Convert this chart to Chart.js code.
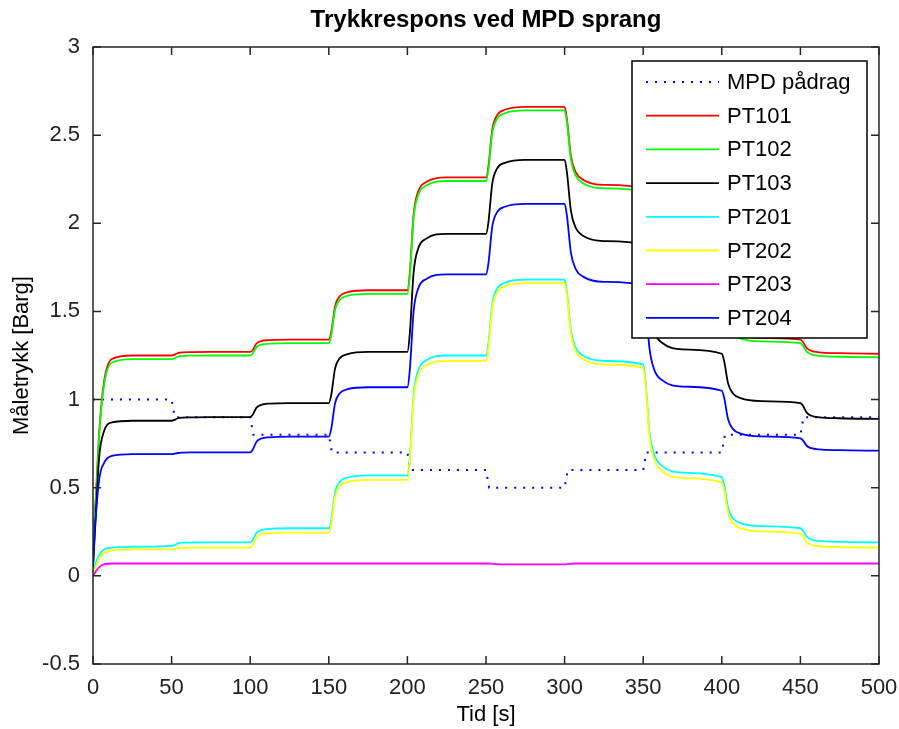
<!DOCTYPE html>
<html lang="no">
<head>
    <meta charset="UTF-8">
    <title>Trykkrespons ved MPD sprang</title>
    <script src="https://cdn.jsdelivr.net/npm/chart.js"></script>
    <style>
        body { margin: 0; background: #fff; }
        canvas { display: block; }
    </style>
</head>
<body>
    <canvas id="chart" width="899" height="729"></canvas>
<script>
    // Tidspunkter for trykkmålingene [s]
    const timeS = [
        0, 1.5, 4, 7, 12, 25,
        50, 51.5, 54, 57, 62, 75,
        100, 101.5, 104, 107, 112, 125,
        150, 151.5, 154, 157, 162, 175,
        200, 201.5, 204, 207, 212, 225,
        250, 251.5, 254, 257, 262, 275,
        300, 301.5, 304, 307, 312, 325,
        350, 351.5, 354, 357, 362, 375,
        400, 401.5, 404, 407, 412, 425,
        450, 451.5, 454, 457, 462, 475,
        500
    ];

    // MPD pådrag (sprang hvert 50. sekund)
    const mpdTime = [0, 50, 52, 100, 102, 150, 152, 200, 202, 250, 252, 300, 302, 350, 352, 400, 402, 450, 452, 500];
    const mpdValue = [1, 1, 0.9, 0.9, 0.8, 0.8, 0.7, 0.7, 0.6, 0.6, 0.5, 0.5, 0.6, 0.6, 0.7, 0.7, 0.8, 0.8, 0.9, 0.9];

    const pt101 = [
        0.2, 0.4, 0.82, 1.1, 1.23, 1.25,
        1.25, 1.253, 1.264, 1.268, 1.269, 1.27,
        1.27, 1.28, 1.318, 1.332, 1.337, 1.34,
        1.34, 1.382, 1.53, 1.586, 1.609, 1.62,
        1.62, 1.716, 2.055, 2.183, 2.234, 2.26,
        2.26, 2.32, 2.532, 2.612, 2.644, 2.66,
        2.66, 2.591, 2.384, 2.292, 2.246, 2.218,
        2.2, 2.11, 1.84, 1.72, 1.66, 1.624,
        1.6, 1.561, 1.444, 1.392, 1.366, 1.35,
        1.34, 1.328, 1.292, 1.276, 1.268, 1.263,
        1.26
    ];
    const pt102 = [
        0.2, 0.38, 0.8, 1.08, 1.21, 1.23,
        1.23, 1.233, 1.244, 1.248, 1.249, 1.25,
        1.25, 1.26, 1.298, 1.312, 1.317, 1.32,
        1.32, 1.362, 1.51, 1.566, 1.589, 1.6,
        1.6, 1.696, 2.035, 2.163, 2.214, 2.24,
        2.24, 2.3, 2.512, 2.592, 2.624, 2.64,
        2.64, 2.571, 2.364, 2.272, 2.226, 2.198,
        2.18, 2.09, 1.82, 1.7, 1.64, 1.604,
        1.58, 1.541, 1.424, 1.372, 1.346, 1.33,
        1.32, 1.308, 1.272, 1.256, 1.248, 1.243,
        1.24
    ];
    const pt103 = [
        0.05, 0.3, 0.68, 0.82, 0.87, 0.88,
        0.88, 0.883, 0.894, 0.898, 0.899, 0.9,
        0.9, 0.912, 0.954, 0.97, 0.977, 0.98,
        0.98, 1.024, 1.177, 1.235, 1.258, 1.27,
        1.27, 1.371, 1.726, 1.86, 1.913, 1.94,
        1.94, 2.003, 2.226, 2.31, 2.343, 2.36,
        2.36, 2.288, 2.072, 1.976, 1.928, 1.899,
        1.88, 1.787, 1.508, 1.384, 1.322, 1.285,
        1.26, 1.218, 1.092, 1.036, 1.008, 0.991,
        0.98, 0.967, 0.926, 0.908, 0.899, 0.894,
        0.89
    ];
    const pt201 = [
        0.02, 0.07, 0.12, 0.15, 0.16, 0.165,
        0.17, 0.173, 0.184, 0.188, 0.189, 0.19,
        0.19, 0.202, 0.244, 0.26, 0.267, 0.27,
        0.27, 0.315, 0.474, 0.534, 0.558, 0.57,
        0.57, 0.672, 1.032, 1.168, 1.223, 1.25,
        1.25, 1.315, 1.542, 1.628, 1.663, 1.68,
        1.68, 1.608, 1.392, 1.296, 1.248, 1.219,
        1.2, 1.104, 0.816, 0.688, 0.624, 0.586,
        0.56, 0.517, 0.386, 0.328, 0.299, 0.282,
        0.27, 0.258, 0.222, 0.206, 0.198, 0.193,
        0.19
    ];
    const pt202 = [
        0, 0.04, 0.1, 0.13, 0.145, 0.15,
        0.15, 0.152, 0.157, 0.159, 0.16, 0.16,
        0.16, 0.173, 0.218, 0.235, 0.242, 0.245,
        0.245, 0.29, 0.449, 0.509, 0.533, 0.545,
        0.545, 0.646, 1.004, 1.139, 1.193, 1.22,
        1.22, 1.286, 1.519, 1.607, 1.642, 1.66,
        1.66, 1.588, 1.372, 1.276, 1.228, 1.199,
        1.18, 1.083, 0.79, 0.66, 0.595, 0.556,
        0.53, 0.487, 0.356, 0.298, 0.269, 0.252,
        0.24, 0.228, 0.192, 0.176, 0.168, 0.163,
        0.16
    ];
    const pt203 = [
        0, 0.02, 0.05, 0.065, 0.07, 0.07,
        0.07, 0.07, 0.07, 0.07, 0.07, 0.07,
        0.07, 0.07, 0.07, 0.07, 0.07, 0.07,
        0.07, 0.07, 0.07, 0.07, 0.07, 0.07,
        0.07, 0.07, 0.07, 0.07, 0.07, 0.07,
        0.07, 0.07, 0.068, 0.066, 0.065, 0.065,
        0.065, 0.066, 0.068, 0.07, 0.07, 0.07,
        0.07, 0.07, 0.07, 0.07, 0.07, 0.07,
        0.07, 0.07, 0.07, 0.07, 0.07, 0.07,
        0.07, 0.07, 0.07, 0.07, 0.07, 0.07,
        0.07
    ];
    const pt204 = [
        0.05, 0.3, 0.55, 0.64, 0.68, 0.69,
        0.69, 0.692, 0.697, 0.699, 0.7, 0.7,
        0.7, 0.714, 0.761, 0.779, 0.786, 0.79,
        0.79, 0.832, 0.98, 1.036, 1.059, 1.07,
        1.07, 1.166, 1.505, 1.633, 1.684, 1.71,
        1.71, 1.77, 1.982, 2.062, 2.094, 2.11,
        2.11, 2.041, 1.834, 1.742, 1.696, 1.668,
        1.65, 1.56, 1.29, 1.17, 1.11, 1.074,
        1.05, 1.01, 0.888, 0.834, 0.807, 0.791,
        0.78, 0.77, 0.738, 0.724, 0.717, 0.713,
        0.71
    ];

    const sensorNames = ['PT101', 'PT102', 'PT103', 'PT201', 'PT202', 'PT203', 'PT204'];
    const sensorValues = [pt101, pt102, pt103, pt201, pt202, pt203, pt204];
    const sensorColors = ['#ff0000', '#00ff00', '#000000', '#00ffff', '#ffff00', '#ff00ff', '#0000ff'];

    const FONT = "'Liberation Sans', Arial, sans-serif";

    function toPoints(xs, ys) {
        return xs.map((x, i) => ({ x: x, y: ys[i] }));
    }

    const datasets = [{
        label: 'MPD pådrag',
        data: toPoints(mpdTime, mpdValue),
        borderColor: '#0000ff',
        borderWidth: 2,
        borderDash: [2, 7],
        order: 7
    }];
    sensorNames.forEach((name, i) => {
        datasets.push({
            label: name,
            data: toPoints(timeS, sensorValues[i]),
            borderColor: sensorColors[i],
            borderWidth: 1.8,
            cubicInterpolationMode: 'monotone',
            order: 6 - i   // sist plottet ligger øverst, som i MATLAB
        });
    });

    // Ramme og tick-merker innover på alle fire sider
    const boxTicks = {
        id: 'boxTicks',
        afterDatasetsDraw(chart) {
            const { ctx, chartArea: a, scales: { x, y } } = chart;
            const len = 8;
            ctx.save();
            ctx.strokeStyle = '#262626';
            ctx.lineWidth = 1.5;
            ctx.beginPath();
            x.ticks.forEach(t => {
                const px = x.getPixelForValue(t.value);
                ctx.moveTo(px, a.bottom); ctx.lineTo(px, a.bottom - len);
                ctx.moveTo(px, a.top); ctx.lineTo(px, a.top + len);
            });
            y.ticks.forEach(t => {
                const py = y.getPixelForValue(t.value);
                ctx.moveTo(a.left, py); ctx.lineTo(a.left + len, py);
                ctx.moveTo(a.right, py); ctx.lineTo(a.right - len, py);
            });
            ctx.stroke();
            ctx.strokeRect(a.left, a.top, a.right - a.left, a.bottom - a.top);
            ctx.restore();
        }
    };

    // Legende inne i plottet, øverst til høyre
    const innerLegend = {
        id: 'innerLegend',
        afterDraw(chart) {
            const { ctx, chartArea: a } = chart;
            const left = a.right - 247, top = a.top + 14, w = 235, h = 277;
            const rowH = 33.7;
            ctx.save();
            ctx.fillStyle = '#fff';
            ctx.fillRect(left, top, w, h);
            ctx.strokeStyle = '#000';
            ctx.lineWidth = 1.5;
            ctx.strokeRect(left, top, w, h);
            ctx.font = '22px ' + FONT;
            ctx.textBaseline = 'middle';
            chart.data.datasets.forEach((ds, i) => {
                const yRow = top + 21 + i * rowH;
                ctx.beginPath();
                ctx.setLineDash(ds.borderDash || []);
                ctx.strokeStyle = ds.borderColor;
                ctx.lineWidth = ds.borderWidth;
                ctx.moveTo(left + 14, yRow);
                ctx.lineTo(left + 87, yRow);
                ctx.stroke();
                ctx.setLineDash([]);
                ctx.fillStyle = '#000';
                ctx.fillText(ds.label, left + 95, yRow + 1);
            });
            ctx.restore();
        }
    };

    new Chart(document.getElementById('chart'), {
        type: 'line',
        data: { datasets: datasets },
        options: {
            responsive: false,
            animation: false,
            layout: { padding: { top: 0, left: 0, right: 20, bottom: 0 } },
            elements: { point: { radius: 0 }, line: { tension: 0 } },
            plugins: {
                legend: { display: false },
                tooltip: { enabled: false },
                title: {
                    display: true,
                    text: 'Trykkrespons ved MPD sprang',
                    fullSize: false,
                    color: '#000',
                    font: { family: FONT, size: 24, weight: 'bold' },
                    padding: { top: 6, bottom: 12.2 }
                }
            },
            scales: {
                x: {
                    type: 'linear',
                    min: 0,
                    max: 500,
                    grid: { display: false },
                    border: { display: false },
                    ticks: {
                        stepSize: 50,
                        autoSkip: false,
                        maxRotation: 0,
                        padding: 3,
                        color: '#222',
                        font: { family: FONT, size: 22 }
                    },
                    title: {
                        display: true,
                        text: 'Tid [s]',
                        color: '#000',
                        font: { family: FONT, size: 22 },
                        padding: { top: 0, bottom: 1 }
                    },
                    afterFit(scale) {
                        scale.height = 65;
                        scale.paddingLeft = 0;
                        scale.paddingRight = 0;
                    }
                },
                y: {
                    min: -0.5,
                    max: 3,
                    grid: { display: false },
                    border: { display: false },
                    ticks: {
                        stepSize: 0.5,
                        padding: 5,
                        color: '#222',
                        font: { family: FONT, size: 22 },
                        callback: value => value.toString()
                    },
                    title: {
                        display: true,
                        text: 'Måletrykk [Barg]',
                        color: '#000',
                        font: { family: FONT, size: 22 },
                        padding: { top: 9, bottom: 0 }
                    },
                    afterFit(scale) { scale.width = 93; }
                }
            }
        },
        plugins: [boxTicks, innerLegend]
    });
</script>
</body>
</html>
